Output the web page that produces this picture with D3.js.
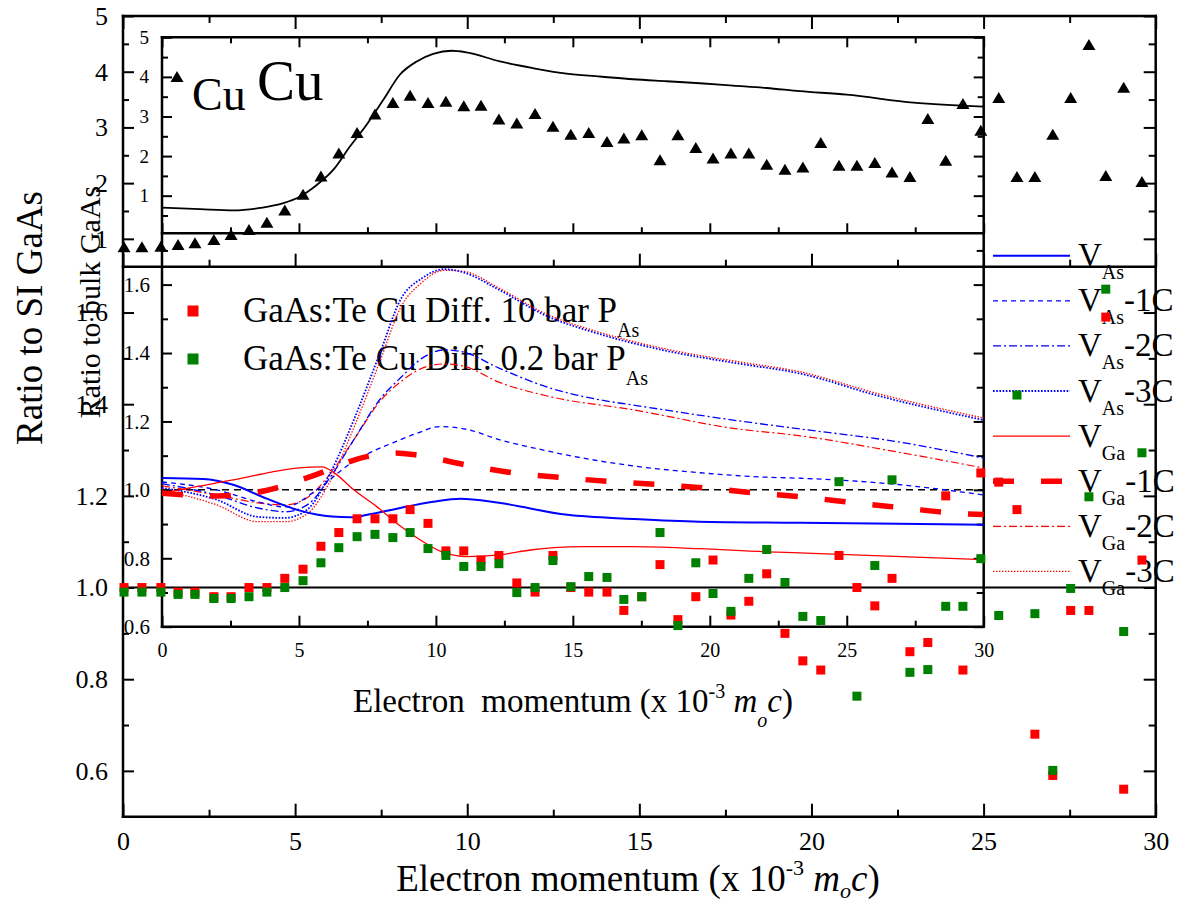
<!DOCTYPE html>
<html>
<head>
<meta charset="utf-8">
<script src="https://cdn.jsdelivr.net/npm/d3@7"></script>
<style>
  html, body { margin: 0; padding: 0; background: #fff; }
  svg { display: block; }
</style>
</head>
<body>
<svg id="chart" width="1186" height="903"></svg>
<script>
// ---------- measured data ----------
// electron momentum (x 10^-3 m0c) of the measured points
const momentum = [0.03,0.55,1.10,1.60,2.09,2.64,3.14,3.66,4.18,4.70,5.23,5.75,6.27,6.80,7.32,7.84,
  8.34,8.86,9.38,9.90,10.40,10.92,11.44,11.97,12.49,13.01,13.53,14.06,14.55,15.07,15.60,16.12,16.64,
  17.14,17.66,18.18,18.70,19.23,19.75,20.27,20.80,21.32,21.84,22.34,22.86,23.38,23.90,24.40,24.92,
  25.44,25.97,26.49,27.01,27.53,28.06,28.55,29.07,29.60];

// Cu ratio curve (upper panel, triangles)
const cuRatio = [0.85,0.85,0.86,0.89,0.92,0.98,1.07,1.16,1.29,1.51,1.79,2.12,2.53,2.90,3.23,3.44,
  3.57,3.44,3.46,3.38,3.39,3.14,3.07,3.24,3.01,2.87,2.90,2.74,2.80,2.86,2.41,2.86,2.63,2.44,2.53,
  2.53,2.33,2.24,2.28,2.72,2.31,2.31,2.36,2.19,2.11,3.15,2.40,3.42,2.94,3.53,2.11,2.11,2.87,3.53,
  4.48,2.13,3.71,2.02];

// GaAs:Te Cu diffused, 10 bar P_As
const te10bar = [1.00,1.00,1.00,0.99,0.99,0.98,0.98,1.00,1.00,1.02,1.04,1.09,1.12,1.15,1.15,1.15,
  1.17,1.14,1.08,1.08,1.06,1.07,1.01,0.99,1.07,1.00,0.99,0.99,0.95,0.98,1.05,0.93,0.98,1.06,0.94,
  0.97,1.03,0.90,0.84,0.82,1.07,1.00,0.96,1.02,0.86,0.88,1.20,0.82,1.25,1.23,1.17,0.68,0.59,0.95,
  0.95,1.59,0.56,1.06];

// GaAs:Te Cu diffused, 0.2 bar P_As
const te02bar = [0.99,0.99,0.99,0.985,0.985,0.976,0.976,0.98,0.99,1.00,1.015,1.054,1.087,1.111,
  1.116,1.109,1.12,1.085,1.07,1.046,1.046,1.052,0.989,1.00,1.059,1.002,1.024,1.022,0.974,0.98,1.12,
  0.917,1.054,0.987,0.948,1.02,1.083,1.011,0.937,0.928,1.231,0.763,1.048,1.235,0.815,0.821,0.959,
  0.959,1.063,0.939,1.42,0.943,0.601,0.998,1.198,1.651,0.904,1.294];

// ---------- calculated curves [momentum, ratio] ----------
const cuCalc = [[0,0.70],[1.39,0.66],[2.61,0.63],[3.58,0.69],[4.43,0.81],[5.04,0.98],[5.65,1.27],
  [6.25,1.65],[6.86,2.24],[7.47,2.79],[8.08,3.42],[8.69,4.06],[9.3,4.39],[9.9,4.58],[10.58,4.66],
  [11.12,4.62],[12.34,4.39],[13.55,4.22],[14.77,4.08],[15.99,4.01],[17.2,3.94],[18.42,3.89],
  [19.64,3.84],[20.85,3.78],[22.07,3.72],[23.29,3.64],[25.0,3.55],[27.44,3.35],[30,3.25]];

const vAs = [[0,1.035],[1.5,1.032],[2.6,1.015],[3.8,0.975],[5.0,0.94],[6.2,0.922],[6.9,0.92],
  [7.5,0.927],[8.7,0.947],[9.9,0.965],[10.9,0.974],[12.3,0.962],[14.8,0.927],[17.2,0.915],
  [19.6,0.907],[23.3,0.904],[26.9,0.901],[30,0.898]];
const vAs1C = [[0,1.023],[2,1.0],[3.5,0.965],[4.5,0.95],[5.65,1.0],[6.86,1.076],[8.69,1.146],
  [9.3,1.165],[10.15,1.185],[11.12,1.177],[12.34,1.146],[13.55,1.123],[14.77,1.102],[17.2,1.07],
  [19.64,1.05],[22.07,1.037],[23.3,1.034],[26.95,1.015],[30,0.985]];
const vAs2C = [[0,1.018],[2,0.985],[3.5,0.947],[4.5,0.936],[5.3,0.956],[6.2,1.044],[7.0,1.146],
  [8.0,1.269],[8.7,1.327],[9.5,1.385],[10.3,1.409],[11.0,1.403],[12.3,1.356],[14.2,1.297],
  [16.0,1.263],[17.2,1.248],[20.85,1.204],[23.3,1.178],[26.9,1.14],[30,1.093]];
const vAs3C = [[0,1.006],[2,0.971],[3.5,0.921],[4.5,0.918],[5.3,0.942],[6.2,1.058],[7.0,1.204],
  [8.0,1.409],[8.7,1.555],[9.5,1.619],[10.3,1.645],[11.0,1.636],[12.3,1.585],[14.0,1.51],
  [16.0,1.455],[18.5,1.405],[21.0,1.37],[23.3,1.34],[26.2,1.274],[30,1.204]];
const vGa = [[0,0.991],[1.3,1.01],[2.6,1.029],[4.0,1.052],[5.0,1.064],[5.84,1.067],[6.3,1.049],
  [7.0,1.0],[7.84,0.951],[8.69,0.895],[9.42,0.854],[10.27,0.817],[11.12,0.805],[12.32,0.81],
  [13.52,0.825],[15.35,0.834],[17.17,0.834],[19.61,0.828],[22.05,0.819],[23.26,0.816],[30,0.796]];
const vGa1C = [[0,0.99],[2,0.982],[3.8,0.998],[5.5,1.041],[7.47,1.097],[8.5,1.108],[9.3,1.102],
  [11.1,1.073],[12.9,1.049],[14.6,1.036],[16.4,1.024],[18.2,1.015],[20.0,1.004],[21.8,0.99],
  [23.3,0.98],[25.4,0.961],[27.1,0.947],[28.9,0.932],[30,0.928]];
const vGa2C = [[0,1.012],[2,0.985],[3.5,0.962],[4.5,0.956],[5.3,0.977],[6.2,1.053],[7.0,1.146],
  [8.0,1.263],[8.7,1.315],[9.5,1.356],[10.3,1.368],[11.0,1.362],[12.3,1.315],[14.2,1.272],
  [17.2,1.234],[20.85,1.18],[23.3,1.158],[26.9,1.11],[30,1.064]];
const vGa3C = [[0,1.0],[2,0.956],[3.5,0.907],[4.5,0.907],[5.3,0.93],[6.2,1.035],[7.0,1.181],
  [8.0,1.385],[8.7,1.531],[9.5,1.607],[10.3,1.642],[11.0,1.639],[12.3,1.59],[14.0,1.515],
  [16.0,1.46],[18.5,1.41],[21.0,1.375],[23.3,1.345],[26.2,1.28],[30,1.21]];
const bulkLevel = 1.0;

// ---------- tick values ----------
const xMajor = [0,5,10,15,20,25,30];
const xMinor = [2.5,7.5,12.5,17.5,22.5,27.5];
const cuMajor = [1,2,3,4,5];
const cuMinor = [1.5,2.5,3.5,4.5];
const cuMinorInner = [0.5,1.5,2.5,3.5,4.5];
const ratioMajor = [0.6,0.8,1.0,1.2,1.4,1.6];
const ratioMinor = [0.7,0.9,1.1,1.3,1.5];
const ratioMinorInner = [0.7,0.9,1.1,1.3,1.5,1.7];

// ---------- drawing ----------
const svg = d3.select("#chart");
const SERIF = '"Liberation Serif","Times New Roman",Times,serif';
const BLUE = "#0000ff", RED = "#ff0000", GREEN = "#008000";

// outer figure (ratio to SI GaAs)
const oX = d3.scaleLinear().domain([0, 30]).range([123, 1155.7]);
const oYTop = d3.scaleLinear().domain([0.5, 5]).range([266.7, 16]);
const oYBot = d3.scaleLinear().domain([0.5, 1.7]).range([816.7, 266.7]);
// inset figure (ratio to bulk GaAs)
const iX = d3.scaleLinear().domain([0, 30]).range([162, 983.7]);
const iYTop = d3.scaleLinear().domain([0.05, 5]).range([233.3, 37.3]);
const iYBot = d3.scaleLinear().domain([0.6, 1.75]).range([626.7, 233.3]);

function tickSet(axisFn, scale, at, values, len, opt = {}) {
  const g = svg.append("g").attr("transform", at);
  g.call(axisFn(scale).tickValues(values).tickSizeInner(-len).tickSizeOuter(0)
    .tickPadding(opt.pad ?? 3).tickFormat(opt.fmt ?? (() => "")));
  g.attr("font-family", SERIF).attr("font-size", opt.size ?? 10);
  g.select(".domain").remove();
  g.selectAll(".tick line").attr("stroke", "#000").attr("stroke-width", 2);
  g.selectAll(".tick text").attr("fill", "#000");
  return g;
}
function seg(x1, y1, x2, y2, w = 2.5) {
  svg.append("line").attr("x1", x1).attr("y1", y1).attr("x2", x2).attr("y2", y2)
    .attr("stroke", "#000").attr("stroke-width", w).attr("stroke-linecap", "square");
}
const fmt1 = d3.format(".1f"), fmt0 = d3.format("d");

// --- outer axes ---
tickSet(d3.axisTop, oX, "translate(0,16)", xMajor, 13);
tickSet(d3.axisTop, oX, "translate(0,16)", xMinor, 7);
tickSet(d3.axisBottom, oX, "translate(0,266.7)", xMajor, 13);
tickSet(d3.axisBottom, oX, "translate(0,266.7)", xMinor, 7);
tickSet(d3.axisBottom, oX, "translate(0,816.7)", xMajor, 13, {fmt: fmt0, pad: 15, size: 26});
tickSet(d3.axisBottom, oX, "translate(0,816.7)", xMinor, 7);
tickSet(d3.axisLeft, oYTop, "translate(123,0)", cuMajor, 11, {fmt: fmt0, pad: 15, size: 26});
tickSet(d3.axisLeft, oYTop, "translate(123,0)", cuMinor, 6);
tickSet(d3.axisRight, oYTop, "translate(1155.7,0)", cuMajor, 12);
tickSet(d3.axisRight, oYTop, "translate(1155.7,0)", cuMinor, 7);
tickSet(d3.axisLeft, oYBot, "translate(123,0)", ratioMajor, 11, {fmt: fmt1, pad: 15, size: 26});
tickSet(d3.axisLeft, oYBot, "translate(123,0)", ratioMinor, 6);
tickSet(d3.axisRight, oYBot, "translate(1155.7,0)", ratioMajor, 12);
tickSet(d3.axisRight, oYBot, "translate(1155.7,0)", ratioMinor, 7);

seg(oX(0), 16, oX(30), 16);
seg(oX(0), 266.7, oX(30), 266.7);
seg(oX(0), 816.7, oX(30), 816.7);
seg(oX(0), 16, oX(0), 816.7);
seg(oX(30), 16, oX(30), 816.7);
seg(oX(0), oYBot(1.0), oX(30), oYBot(1.0), 2);

function momentumTitle(x, y, fs, gap, subDrop) {
  const t = svg.append("text").attr("x", x).attr("y", y).attr("text-anchor", "middle")
    .attr("font-family", SERIF).attr("font-size", fs).attr("fill", "#000")
    .style("white-space", "pre");
  const s = Math.round(fs * 0.6), up = fs * 0.42, down = fs * subDrop;
  t.append("tspan").text("Electron" + gap + "momentum (x 10");
  t.append("tspan").attr("font-size", s).attr("dy", -up).text("-3");
  t.append("tspan").attr("dy", up).text(" ");
  t.append("tspan").attr("font-style", "italic").text("m");
  t.append("tspan").attr("font-style", "italic").attr("font-size", s).attr("dy", down).text("o");
  t.append("tspan").attr("font-style", "italic").attr("dy", -down).text("c");
  t.append("tspan").text(")");
}
momentumTitle(638, 891, 37, " ", 0.18);

svg.append("text").attr("transform", "translate(42,318) rotate(-90)")
  .attr("text-anchor", "middle").attr("font-family", SERIF).attr("font-size", 37)
  .text("Ratio to SI GaAs");

// outer legends
const triPath = "M0,-6 L6.5,5 L-6.5,5 Z";
svg.append("path").attr("d", triPath).attr("transform", "translate(177,77)").attr("fill", "#000");
svg.append("text").attr("x", 192).attr("y", 110).attr("font-family", SERIF).attr("font-size", 46).text("Cu");

const sampleKeys = [
  {label: "GaAs:Te Cu Diff. 10 bar P", color: RED},
  {label: "GaAs:Te Cu Diff. 0.2 bar P", color: GREEN}
];
sampleKeys.forEach((k, i) => {
  const y = 311 + i * 48;
  svg.append("rect").attr("x", 187.5).attr("y", y - 5.5).attr("width", 11).attr("height", 11).attr("fill", k.color);
  const t = svg.append("text").attr("x", 243).attr("y", y + 11).attr("font-family", SERIF).attr("font-size", 35);
  t.append("tspan").text(k.label);
  t.append("tspan").attr("font-size", 20).attr("dy", 15).text("As");
});

// --- inset axes ---
tickSet(d3.axisTop, iX, "translate(0,37.3)", xMajor, 10);
tickSet(d3.axisTop, iX, "translate(0,37.3)", xMinor, 6);
tickSet(d3.axisBottom, iX, "translate(0,233.3)", xMajor, 10);
tickSet(d3.axisBottom, iX, "translate(0,233.3)", xMinor, 6);
tickSet(d3.axisBottom, iX, "translate(0,626.7)", xMajor, 11, {fmt: fmt0, pad: 16, size: 20});
tickSet(d3.axisBottom, iX, "translate(0,626.7)", xMinor, 6);
tickSet(d3.axisLeft, iYTop, "translate(162,0)", cuMajor, 10, {fmt: fmt0, pad: 13, size: 19});
tickSet(d3.axisLeft, iYTop, "translate(162,0)", cuMinorInner, 6);
tickSet(d3.axisRight, iYTop, "translate(983.7,0)", cuMajor, 10);
tickSet(d3.axisRight, iYTop, "translate(983.7,0)", cuMinorInner, 6);
tickSet(d3.axisLeft, iYBot, "translate(162,0)", ratioMajor, 10, {fmt: fmt1, pad: 12, size: 21});
tickSet(d3.axisLeft, iYBot, "translate(162,0)", ratioMinorInner, 6);
tickSet(d3.axisRight, iYBot, "translate(983.7,0)", ratioMajor, 10);
tickSet(d3.axisRight, iYBot, "translate(983.7,0)", ratioMinorInner, 7);

seg(iX(0), 37.3, iX(30), 37.3);
seg(iX(0), 233.3, iX(30), 233.3);
seg(iX(0), 626.7, iX(30), 626.7);
seg(iX(0), 37.3, iX(0), 626.7);
seg(iX(30), 37.3, iX(30), 626.7);

momentumTitle(573, 712, 33, "  ", 0.45);
svg.append("text").attr("transform", "translate(100,302) rotate(-90)")
  .attr("text-anchor", "middle").attr("font-family", SERIF).attr("font-size", 30)
  .text("Ratio to bulk GaAs");
svg.append("text").attr("x", 257).attr("y", 100).attr("font-family", SERIF).attr("font-size", 57).text("Cu");

// calculated Cu curve
const lineTop = d3.line().x(d => iX(d[0])).y(d => iYTop(d[1])).curve(d3.curveMonotoneX);
svg.append("path").attr("d", lineTop(cuCalc)).attr("fill", "none").attr("stroke", "#000").attr("stroke-width", 1.8);

// bulk reference level
svg.append("line").attr("x1", iX(0)).attr("x2", iX(30)).attr("y1", iYBot(bulkLevel)).attr("y2", iYBot(bulkLevel))
  .attr("stroke", "#000").attr("stroke-width", 1.5).attr("stroke-dasharray", "7,5");

const theory = [
  {pts: vAs,   sub: "As", tag: "",    color: BLUE, w: 2,   dash: null},
  {pts: vAs1C, sub: "As", tag: "-1C", color: BLUE, w: 1.3, dash: "5,4"},
  {pts: vAs2C, sub: "As", tag: "-2C", color: BLUE, w: 1.3, dash: "8,3,2,3"},
  {pts: vAs3C, sub: "As", tag: "-3C", color: BLUE, w: 1.8, dash: "1.6,1.6"},
  {pts: vGa,   sub: "Ga", tag: "",    color: RED,  w: 1.3, dash: null},
  {pts: vGa1C, sub: "Ga", tag: "-1C", color: RED,  w: 5.5, dash: "21,27"},
  {pts: vGa2C, sub: "Ga", tag: "-2C", color: RED,  w: 1.2, dash: "8,3,2,3"},
  {pts: vGa3C, sub: "Ga", tag: "-3C", color: RED,  w: 1.3, dash: "1.4,1.6"}
];
const lineBot = d3.line().x(d => iX(d[0])).y(d => iYBot(d[1])).curve(d3.curveMonotoneX);
// draw the thin lines first, the thick dashed one over them
[7, 6, 3, 2, 1, 0, 4, 5].forEach(i => {
  const s = theory[i];
  svg.append("path").attr("d", lineBot(s.pts)).attr("fill", "none")
    .attr("stroke", s.color).attr("stroke-width", s.w)
    .attr("stroke-dasharray", s.dash);
});

// theory legend
theory.forEach((s, i) => {
  const y = 255.7 + i * 45.1;
  svg.append("line").attr("x1", 993).attr("x2", 1070).attr("y1", y).attr("y2", y)
    .attr("stroke", s.color).attr("stroke-width", s.w).attr("stroke-dasharray", s.dash);
  const t = svg.append("text").attr("x", 1078).attr("y", y + 10.5)
    .attr("font-family", SERIF).attr("font-size", 33);
  t.append("tspan").text("V");
  t.append("tspan").attr("font-size", 20).attr("dy", 13).text(s.sub);
  if (s.tag) t.append("tspan").attr("dy", -13).text(s.tag);
});

// --- measured points on top ---
svg.append("g").selectAll("path").data(momentum).join("path")
  .attr("d", triPath)
  .attr("transform", (d, i) => `translate(${oX(d)},${oYTop(cuRatio[i])})`)
  .attr("fill", "#000");

const sq = 9;
[[te10bar, RED], [te02bar, GREEN]].forEach(([vals, color]) => {
  svg.append("g").selectAll("rect").data(momentum).join("rect")
    .attr("x", d => oX(d) - sq / 2)
    .attr("y", (d, i) => oYBot(vals[i]) - sq / 2)
    .attr("width", sq).attr("height", sq).attr("fill", color);
});
</script>
</body>
</html>
